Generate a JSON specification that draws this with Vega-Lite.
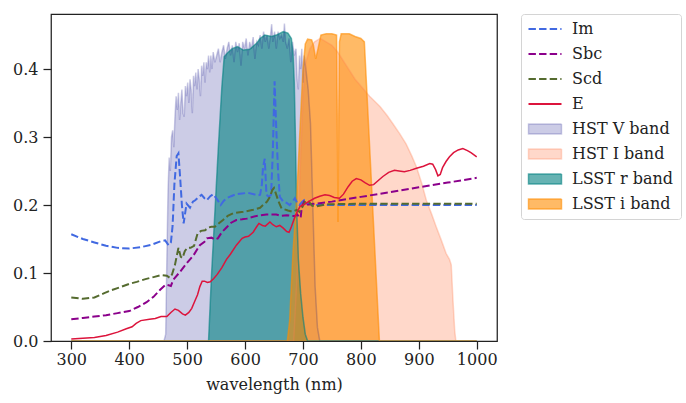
{
  "$schema": "https://vega.github.io/schema/vega-lite/v6.json",
  "width": 446,
  "height": 327,
  "autosize": {"type": "none"},
  "padding": {"left": 51, "top": 14, "right": 189, "bottom": 62},
  "background": "white",
  "config": {
    "font": "DejaVu Serif",
    "view": {"stroke": "#222222", "strokeWidth": 1.25},
    "axis": {
      "domain": false, "grid": false, "tickSize": 8, "tickWidth": 1.25, "tickColor": "#222222",
      "labelColor": "#222222", "labelFontSize": 16, "labelFont": "DejaVu Serif", "labelFlush": false, "labelOverlap": false,
      "titleColor": "#222222", "titleFontSize": 16, "titleFont": "DejaVu Serif", "titleFontWeight": "normal"
    },
    "legend": {"labelFont": "DejaVu Serif", "labelFontSize": 16, "labelColor": "#222222"}
  },
  "datasets": {
    "lines": [
      {"n":"Im","w":300,"v":0.157},{"n":"Im","w":320,"v":0.150},{"n":"Im","w":340,"v":0.145},{"n":"Im","w":360,"v":0.140},{"n":"Im","w":380,"v":0.137},{"n":"Im","w":400,"v":0.136},{"n":"Im","w":420,"v":0.138},{"n":"Im","w":440,"v":0.142},{"n":"Im","w":455,"v":0.147},{"n":"Im","w":462,"v":0.148},{"n":"Im","w":468,"v":0.141},{"n":"Im","w":472,"v":0.145},{"n":"Im","w":475,"v":0.17},{"n":"Im","w":478,"v":0.23},{"n":"Im","w":482,"v":0.272},{"n":"Im","w":485,"v":0.276},{"n":"Im","w":488,"v":0.24},{"n":"Im","w":491,"v":0.2},{"n":"Im","w":494,"v":0.173},{"n":"Im","w":499,"v":0.202},{"n":"Im","w":505,"v":0.196},{"n":"Im","w":510,"v":0.205},{"n":"Im","w":514,"v":0.207},{"n":"Im","w":520,"v":0.212},{"n":"Im","w":525,"v":0.215},{"n":"Im","w":530,"v":0.21},{"n":"Im","w":534,"v":0.207},{"n":"Im","w":540,"v":0.213},{"n":"Im","w":545,"v":0.216},{"n":"Im","w":552,"v":0.208},{"n":"Im","w":558,"v":0.2},{"n":"Im","w":563,"v":0.206},{"n":"Im","w":568,"v":0.21},{"n":"Im","w":576,"v":0.213},{"n":"Im","w":585,"v":0.216},{"n":"Im","w":595,"v":0.217},{"n":"Im","w":605,"v":0.218},{"n":"Im","w":615,"v":0.216},{"n":"Im","w":622,"v":0.214},{"n":"Im","w":626,"v":0.215},{"n":"Im","w":629,"v":0.23},{"n":"Im","w":631,"v":0.255},{"n":"Im","w":634,"v":0.268},{"n":"Im","w":637,"v":0.215},{"n":"Im","w":641,"v":0.212},{"n":"Im","w":645,"v":0.215},{"n":"Im","w":648,"v":0.28},{"n":"Im","w":651,"v":0.382},{"n":"Im","w":654,"v":0.31},{"n":"Im","w":657,"v":0.25},{"n":"Im","w":660,"v":0.212},{"n":"Im","w":666,"v":0.205},{"n":"Im","w":672,"v":0.203},{"n":"Im","w":677,"v":0.2},{"n":"Im","w":682,"v":0.205},{"n":"Im","w":686,"v":0.21},{"n":"Im","w":690,"v":0.203},{"n":"Im","w":694,"v":0.2},{"n":"Im","w":698,"v":0.204},{"n":"Im","w":702,"v":0.207},{"n":"Im","w":706,"v":0.202},{"n":"Im","w":712,"v":0.201},{"n":"Im","w":720,"v":0.2},{"n":"Im","w":800,"v":0.2},{"n":"Im","w":900,"v":0.2},{"n":"Im","w":1000,"v":0.2},
      {"n":"Sbc","w":300,"v":0.032},{"n":"Sbc","w":320,"v":0.034},{"n":"Sbc","w":340,"v":0.036},{"n":"Sbc","w":360,"v":0.038},{"n":"Sbc","w":380,"v":0.041},{"n":"Sbc","w":400,"v":0.044},{"n":"Sbc","w":415,"v":0.05},{"n":"Sbc","w":430,"v":0.057},{"n":"Sbc","w":442,"v":0.065},{"n":"Sbc","w":453,"v":0.075},{"n":"Sbc","w":463,"v":0.083},{"n":"Sbc","w":468,"v":0.082},{"n":"Sbc","w":472,"v":0.081},{"n":"Sbc","w":476,"v":0.09},{"n":"Sbc","w":488,"v":0.102},{"n":"Sbc","w":499,"v":0.114},{"n":"Sbc","w":511,"v":0.126},{"n":"Sbc","w":522,"v":0.141},{"n":"Sbc","w":530,"v":0.146},{"n":"Sbc","w":534,"v":0.151},{"n":"Sbc","w":542,"v":0.152},{"n":"Sbc","w":548,"v":0.149},{"n":"Sbc","w":553,"v":0.151},{"n":"Sbc","w":560,"v":0.16},{"n":"Sbc","w":568,"v":0.167},{"n":"Sbc","w":576,"v":0.174},{"n":"Sbc","w":585,"v":0.178},{"n":"Sbc","w":595,"v":0.179},{"n":"Sbc","w":603,"v":0.18},{"n":"Sbc","w":620,"v":0.184},{"n":"Sbc","w":637,"v":0.186},{"n":"Sbc","w":654,"v":0.186},{"n":"Sbc","w":662,"v":0.184},{"n":"Sbc","w":672,"v":0.185},{"n":"Sbc","w":680,"v":0.184},{"n":"Sbc","w":686,"v":0.184},{"n":"Sbc","w":690,"v":0.186},{"n":"Sbc","w":693,"v":0.183},{"n":"Sbc","w":696,"v":0.181},{"n":"Sbc","w":698,"v":0.198},{"n":"Sbc","w":702,"v":0.205},{"n":"Sbc","w":706,"v":0.2},{"n":"Sbc","w":712,"v":0.201},{"n":"Sbc","w":750,"v":0.205},{"n":"Sbc","w":800,"v":0.212},{"n":"Sbc","w":850,"v":0.219},{"n":"Sbc","w":900,"v":0.226},{"n":"Sbc","w":950,"v":0.233},{"n":"Sbc","w":1000,"v":0.240},
      {"n":"Scd","w":300,"v":0.064},{"n":"Scd","w":320,"v":0.062},{"n":"Scd","w":340,"v":0.064},{"n":"Scd","w":356,"v":0.07},{"n":"Scd","w":370,"v":0.075},{"n":"Scd","w":384,"v":0.079},{"n":"Scd","w":400,"v":0.084},{"n":"Scd","w":413,"v":0.087},{"n":"Scd","w":428,"v":0.091},{"n":"Scd","w":442,"v":0.094},{"n":"Scd","w":455,"v":0.097},{"n":"Scd","w":465,"v":0.096},{"n":"Scd","w":470,"v":0.093},{"n":"Scd","w":474,"v":0.098},{"n":"Scd","w":479,"v":0.112},{"n":"Scd","w":485,"v":0.137},{"n":"Scd","w":489,"v":0.124},{"n":"Scd","w":492,"v":0.122},{"n":"Scd","w":496,"v":0.132},{"n":"Scd","w":500,"v":0.137},{"n":"Scd","w":506,"v":0.137},{"n":"Scd","w":512,"v":0.14},{"n":"Scd","w":518,"v":0.158},{"n":"Scd","w":524,"v":0.162},{"n":"Scd","w":531,"v":0.163},{"n":"Scd","w":537,"v":0.167},{"n":"Scd","w":542,"v":0.168},{"n":"Scd","w":548,"v":0.168},{"n":"Scd","w":556,"v":0.174},{"n":"Scd","w":562,"v":0.178},{"n":"Scd","w":570,"v":0.184},{"n":"Scd","w":580,"v":0.188},{"n":"Scd","w":597,"v":0.19},{"n":"Scd","w":614,"v":0.193},{"n":"Scd","w":626,"v":0.196},{"n":"Scd","w":631,"v":0.2},{"n":"Scd","w":638,"v":0.205},{"n":"Scd","w":643,"v":0.212},{"n":"Scd","w":647,"v":0.222},{"n":"Scd","w":650,"v":0.225},{"n":"Scd","w":654,"v":0.215},{"n":"Scd","w":658,"v":0.205},{"n":"Scd","w":663,"v":0.195},{"n":"Scd","w":674,"v":0.192},{"n":"Scd","w":682,"v":0.19},{"n":"Scd","w":689,"v":0.193},{"n":"Scd","w":694,"v":0.19},{"n":"Scd","w":699,"v":0.197},{"n":"Scd","w":704,"v":0.206},{"n":"Scd","w":710,"v":0.205},{"n":"Scd","w":716,"v":0.199},{"n":"Scd","w":723,"v":0.198},{"n":"Scd","w":740,"v":0.201},{"n":"Scd","w":800,"v":0.202},{"n":"Scd","w":900,"v":0.202},{"n":"Scd","w":1000,"v":0.202},
      {"n":"E","w":300,"v":0.003},{"n":"E","w":320,"v":0.004},{"n":"E","w":340,"v":0.005},{"n":"E","w":360,"v":0.008},{"n":"E","w":380,"v":0.013},{"n":"E","w":395,"v":0.018},{"n":"E","w":405,"v":0.021},{"n":"E","w":412,"v":0.026},{"n":"E","w":420,"v":0.030},{"n":"E","w":435,"v":0.032},{"n":"E","w":445,"v":0.033},{"n":"E","w":455,"v":0.036},{"n":"E","w":465,"v":0.036},{"n":"E","w":472,"v":0.042},{"n":"E","w":479,"v":0.047},{"n":"E","w":485,"v":0.045},{"n":"E","w":492,"v":0.04},{"n":"E","w":497,"v":0.038},{"n":"E","w":503,"v":0.042},{"n":"E","w":508,"v":0.048},{"n":"E","w":513,"v":0.058},{"n":"E","w":518,"v":0.068},{"n":"E","w":522,"v":0.08},{"n":"E","w":526,"v":0.088},{"n":"E","w":530,"v":0.088},{"n":"E","w":535,"v":0.086},{"n":"E","w":540,"v":0.087},{"n":"E","w":546,"v":0.092},{"n":"E","w":552,"v":0.098},{"n":"E","w":560,"v":0.108},{"n":"E","w":568,"v":0.12},{"n":"E","w":575,"v":0.128},{"n":"E","w":585,"v":0.141},{"n":"E","w":595,"v":0.151},{"n":"E","w":600,"v":0.153},{"n":"E","w":606,"v":0.154},{"n":"E","w":614,"v":0.16},{"n":"E","w":620,"v":0.168},{"n":"E","w":624,"v":0.173},{"n":"E","w":630,"v":0.17},{"n":"E","w":635,"v":0.169},{"n":"E","w":643,"v":0.175},{"n":"E","w":648,"v":0.171},{"n":"E","w":654,"v":0.168},{"n":"E","w":660,"v":0.17},{"n":"E","w":666,"v":0.166},{"n":"E","w":672,"v":0.161},{"n":"E","w":676,"v":0.16},{"n":"E","w":680,"v":0.168},{"n":"E","w":685,"v":0.18},{"n":"E","w":690,"v":0.19},{"n":"E","w":695,"v":0.198},{"n":"E","w":700,"v":0.2},{"n":"E","w":706,"v":0.203},{"n":"E","w":712,"v":0.206},{"n":"E","w":720,"v":0.21},{"n":"E","w":729,"v":0.213},{"n":"E","w":738,"v":0.215},{"n":"E","w":746,"v":0.214},{"n":"E","w":754,"v":0.211},{"n":"E","w":763,"v":0.21},{"n":"E","w":770,"v":0.216},{"n":"E","w":778,"v":0.227},{"n":"E","w":785,"v":0.235},{"n":"E","w":792,"v":0.239},{"n":"E","w":800,"v":0.237},{"n":"E","w":807,"v":0.233},{"n":"E","w":815,"v":0.229},{"n":"E","w":822,"v":0.23},{"n":"E","w":830,"v":0.236},{"n":"E","w":838,"v":0.242},{"n":"E","w":848,"v":0.248},{"n":"E","w":858,"v":0.251},{"n":"E","w":866,"v":0.25},{"n":"E","w":875,"v":0.249},{"n":"E","w":885,"v":0.251},{"n":"E","w":896,"v":0.254},{"n":"E","w":908,"v":0.257},{"n":"E","w":919,"v":0.261},{"n":"E","w":924,"v":0.26},{"n":"E","w":929,"v":0.252},{"n":"E","w":933,"v":0.243},{"n":"E","w":937,"v":0.245},{"n":"E","w":941,"v":0.255},{"n":"E","w":947,"v":0.264},{"n":"E","w":953,"v":0.271},{"n":"E","w":960,"v":0.277},{"n":"E","w":968,"v":0.281},{"n":"E","w":976,"v":0.283},{"n":"E","w":984,"v":0.28},{"n":"E","w":990,"v":0.277},{"n":"E","w":1000,"v":0.271}
    ],
    "bands": [
      {"n":"HST V band","w":300,"v":0},{"n":"HST V band","w":460,"v":0},{"n":"HST V band","w":463,"v":0.01},{"n":"HST V band","w":465,"v":0.12},{"n":"HST V band","w":467,"v":0.22},{"n":"HST V band","w":469,"v":0.27},{"n":"HST V band","w":471,"v":0.25},{"n":"HST V band","w":473,"v":0.3},{"n":"HST V band","w":475,"v":0.31},{"n":"HST V band","w":477,"v":0.285},{"n":"HST V band","w":479,"v":0.33},{"n":"HST V band","w":481,"v":0.36},{"n":"HST V band","w":483,"v":0.34},{"n":"HST V band","w":485,"v":0.365},{"n":"HST V band","w":487,"v":0.325},{"n":"HST V band","w":489,"v":0.35},{"n":"HST V band","w":491,"v":0.37},{"n":"HST V band","w":493,"v":0.335},{"n":"HST V band","w":495,"v":0.33},{"n":"HST V band","w":497,"v":0.375},{"n":"HST V band","w":499,"v":0.36},{"n":"HST V band","w":501,"v":0.38},{"n":"HST V band","w":503,"v":0.35},{"n":"HST V band","w":505,"v":0.385},{"n":"HST V band","w":507,"v":0.37},{"n":"HST V band","w":509,"v":0.335},{"n":"HST V band","w":511,"v":0.39},{"n":"HST V band","w":513,"v":0.375},{"n":"HST V band","w":515,"v":0.395},{"n":"HST V band","w":517,"v":0.37},{"n":"HST V band","w":519,"v":0.40},{"n":"HST V band","w":521,"v":0.385},{"n":"HST V band","w":523,"v":0.36},{"n":"HST V band","w":525,"v":0.405},{"n":"HST V band","w":527,"v":0.39},{"n":"HST V band","w":529,"v":0.41},{"n":"HST V band","w":531,"v":0.38},{"n":"HST V band","w":533,"v":0.41},{"n":"HST V band","w":535,"v":0.40},{"n":"HST V band","w":537,"v":0.42},{"n":"HST V band","w":539,"v":0.395},{"n":"HST V band","w":541,"v":0.42},{"n":"HST V band","w":543,"v":0.40},{"n":"HST V band","w":545,"v":0.425},{"n":"HST V band","w":548,"v":0.41},{"n":"HST V band","w":551,"v":0.42},{"n":"HST V band","w":554,"v":0.43},{"n":"HST V band","w":557,"v":0.41},{"n":"HST V band","w":560,"v":0.425},{"n":"HST V band","w":563,"v":0.435},{"n":"HST V band","w":566,"v":0.415},{"n":"HST V band","w":569,"v":0.43},{"n":"HST V band","w":572,"v":0.44},{"n":"HST V band","w":575,"v":0.42},{"n":"HST V band","w":578,"v":0.435},{"n":"HST V band","w":581,"v":0.41},{"n":"HST V band","w":584,"v":0.44},{"n":"HST V band","w":587,"v":0.425},{"n":"HST V band","w":590,"v":0.438},{"n":"HST V band","w":593,"v":0.405},{"n":"HST V band","w":596,"v":0.44},{"n":"HST V band","w":599,"v":0.43},{"n":"HST V band","w":602,"v":0.445},{"n":"HST V band","w":605,"v":0.42},{"n":"HST V band","w":608,"v":0.44},{"n":"HST V band","w":611,"v":0.43},{"n":"HST V band","w":614,"v":0.447},{"n":"HST V band","w":617,"v":0.415},{"n":"HST V band","w":620,"v":0.44},{"n":"HST V band","w":623,"v":0.435},{"n":"HST V band","w":626,"v":0.45},{"n":"HST V band","w":629,"v":0.43},{"n":"HST V band","w":632,"v":0.455},{"n":"HST V band","w":635,"v":0.44},{"n":"HST V band","w":638,"v":0.45},{"n":"HST V band","w":641,"v":0.43},{"n":"HST V band","w":644,"v":0.45},{"n":"HST V band","w":646,"v":0.466},{"n":"HST V band","w":648,"v":0.44},{"n":"HST V band","w":651,"v":0.455},{"n":"HST V band","w":654,"v":0.43},{"n":"HST V band","w":657,"v":0.455},{"n":"HST V band","w":660,"v":0.445},{"n":"HST V band","w":663,"v":0.45},{"n":"HST V band","w":666,"v":0.44},{"n":"HST V band","w":668,"v":0.467},{"n":"HST V band","w":670,"v":0.44},{"n":"HST V band","w":673,"v":0.43},{"n":"HST V band","w":676,"v":0.445},{"n":"HST V band","w":679,"v":0.41},{"n":"HST V band","w":682,"v":0.44},{"n":"HST V band","w":685,"v":0.42},{"n":"HST V band","w":688,"v":0.43},{"n":"HST V band","w":690,"v":0.385},{"n":"HST V band","w":692,"v":0.37},{"n":"HST V band","w":694,"v":0.42},{"n":"HST V band","w":696,"v":0.40},{"n":"HST V band","w":698,"v":0.43},{"n":"HST V band","w":700,"v":0.38},{"n":"HST V band","w":702,"v":0.42},{"n":"HST V band","w":705,"v":0.40},{"n":"HST V band","w":709,"v":0.37},{"n":"HST V band","w":713,"v":0.32},{"n":"HST V band","w":717,"v":0.2},{"n":"HST V band","w":721,"v":0.08},{"n":"HST V band","w":725,"v":0.02},{"n":"HST V band","w":729,"v":0},{"n":"HST V band","w":1000,"v":0},
      {"n":"HST I band","w":300,"v":0},{"n":"HST I band","w":684,"v":0},{"n":"HST I band","w":690,"v":0.1},{"n":"HST I band","w":695,"v":0.25},{"n":"HST I band","w":700,"v":0.36},{"n":"HST I band","w":705,"v":0.41},{"n":"HST I band","w":712,"v":0.43},{"n":"HST I band","w":720,"v":0.44},{"n":"HST I band","w":730,"v":0.445},{"n":"HST I band","w":740,"v":0.44},{"n":"HST I band","w":750,"v":0.435},{"n":"HST I band","w":760,"v":0.425},{"n":"HST I band","w":775,"v":0.405},{"n":"HST I band","w":790,"v":0.385},{"n":"HST I band","w":800,"v":0.375},{"n":"HST I band","w":815,"v":0.36},{"n":"HST I band","w":833,"v":0.345},{"n":"HST I band","w":845,"v":0.332},{"n":"HST I band","w":855,"v":0.32},{"n":"HST I band","w":867,"v":0.305},{"n":"HST I band","w":878,"v":0.29},{"n":"HST I band","w":888,"v":0.272},{"n":"HST I band","w":896,"v":0.256},{"n":"HST I band","w":905,"v":0.232},{"n":"HST I band","w":913,"v":0.207},{"n":"HST I band","w":922,"v":0.187},{"n":"HST I band","w":930,"v":0.168},{"n":"HST I band","w":939,"v":0.148},{"n":"HST I band","w":947,"v":0.129},{"n":"HST I band","w":953,"v":0.12},{"n":"HST I band","w":956,"v":0.112},{"n":"HST I band","w":959,"v":0.06},{"n":"HST I band","w":962,"v":0.015},{"n":"HST I band","w":964,"v":0},{"n":"HST I band","w":1000,"v":0},
      {"n":"LSST r band","w":300,"v":0},{"n":"LSST r band","w":537,"v":0},{"n":"LSST r band","w":542,"v":0.095},{"n":"LSST r band","w":548,"v":0.19},{"n":"LSST r band","w":554,"v":0.286},{"n":"LSST r band","w":560,"v":0.374},{"n":"LSST r band","w":564,"v":0.418},{"n":"LSST r band","w":570,"v":0.424},{"n":"LSST r band","w":578,"v":0.43},{"n":"LSST r band","w":587,"v":0.433},{"n":"LSST r band","w":597,"v":0.428},{"n":"LSST r band","w":608,"v":0.429},{"n":"LSST r band","w":620,"v":0.438},{"n":"LSST r band","w":626,"v":0.445},{"n":"LSST r band","w":634,"v":0.45},{"n":"LSST r band","w":646,"v":0.448},{"n":"LSST r band","w":654,"v":0.45},{"n":"LSST r band","w":666,"v":0.455},{"n":"LSST r band","w":674,"v":0.453},{"n":"LSST r band","w":680,"v":0.445},{"n":"LSST r band","w":683,"v":0.42},{"n":"LSST r band","w":685,"v":0.38},{"n":"LSST r band","w":687,"v":0.3},{"n":"LSST r band","w":689,"v":0.2},{"n":"LSST r band","w":692,"v":0.12},{"n":"LSST r band","w":696,"v":0.07},{"n":"LSST r band","w":700,"v":0.035},{"n":"LSST r band","w":704,"v":0.01},{"n":"LSST r band","w":708,"v":0},{"n":"LSST r band","w":1000,"v":0},
      {"n":"LSST i band","w":300,"v":0},{"n":"LSST i band","w":673,"v":0},{"n":"LSST i band","w":677,"v":0.03},{"n":"LSST i band","w":683,"v":0.134},{"n":"LSST i band","w":689,"v":0.207},{"n":"LSST i band","w":694.5,"v":0.305},{"n":"LSST i band","w":700,"v":0.40},{"n":"LSST i band","w":704,"v":0.437},{"n":"LSST i band","w":708,"v":0.444},{"n":"LSST i band","w":715,"v":0.443},{"n":"LSST i band","w":718,"v":0.435},{"n":"LSST i band","w":722,"v":0.415},{"n":"LSST i band","w":726,"v":0.43},{"n":"LSST i band","w":731,"v":0.45},{"n":"LSST i band","w":740,"v":0.452},{"n":"LSST i band","w":750,"v":0.452},{"n":"LSST i band","w":758,"v":0.45},{"n":"LSST i band","w":759.5,"v":0.3},{"n":"LSST i band","w":760.5,"v":0.175},{"n":"LSST i band","w":761.5,"v":0.3},{"n":"LSST i band","w":763,"v":0.44},{"n":"LSST i band","w":766,"v":0.452},{"n":"LSST i band","w":780,"v":0.452},{"n":"LSST i band","w":790,"v":0.448},{"n":"LSST i band","w":800,"v":0.445},{"n":"LSST i band","w":806,"v":0.44},{"n":"LSST i band","w":832,"v":0},{"n":"LSST i band","w":1000,"v":0}
    ]
  },
  "encoding": {
    "x": {"field": "w", "type": "quantitative", "scale": {"domain": [265, 1035], "nice": false, "zero": false},
          "axis": {"values": [300,400,500,600,700,800,900,1000], "format": "d", "title": "wavelength (nm)", "labelPadding": 2, "titlePadding": 9,
                   "labelFont": "DejaVu Serif", "titleFont": "DejaVu Serif", "titleFontSize": 16, "labelFontSize": 16}},
    "y": {"field": "v", "type": "quantitative", "stack": null, "scale": {"domain": [0, 0.481], "nice": false},
          "axis": {"values": [0,0.1,0.2,0.3,0.4], "format": ".1f", "title": null, "labelPadding": 5, "labelFont": "DejaVu Serif", "labelFontSize": 16}},
    "color": {"field": "n", "type": "nominal",
      "scale": {"domain": ["Im","Sbc","Scd","E","HST V band","HST I band","LSST r band","LSST i band"],
                "range": ["#4169e1","#8b008b","#556b2f","#dc143c","#000080","#ff7f50","#008080","#ff8c00"]},
      "legend": {
        "title": null, "orient": "none", "legendX": 470, "legendY": 0, "direction": "vertical",
        "padding": 7, "rowPadding": 9, "symbolOffset": 9, "labelOffset": 19,
        "strokeColor": "#d4d4d4", "fillColor": "white", "cornerRadius": 3,
        "symbolSize": 121, "labelFont": "DejaVu Serif", "labelFontSize": 16, "labelColor": "#222222",
        "encode": {
          "labels": {"update": {"font": {"value": "DejaVu Serif"}}},
          "symbols": {"update": {
          "shape": {"signal": "indexof(['Im','Sbc','Scd','E'], datum.value) >= 0 ? 'M-3,0H3' : 'M-3,-0.9H3V0.9H-3Z'"},
          "size": {"value": 121},
          "stroke": {"signal": "['#4169e1','#8b008b','#556b2f','#dc143c','#000080','#ff7f50','#008080','#ff8c00'][indexof(['Im','Sbc','Scd','E','HST V band','HST I band','LSST r band','LSST i band'], datum.value)]"},
          "fill": {"signal": "['transparent','transparent','transparent','transparent','#000080','#ff7f50','#008080','#ff8c00'][indexof(['Im','Sbc','Scd','E','HST V band','HST I band','LSST r band','LSST i band'], datum.value)]"},
          "fillOpacity": {"signal": "[0,0,0,0,0.2,0.3,0.6,0.6][indexof(['Im','Sbc','Scd','E','HST V band','HST I band','LSST r band','LSST i band'], datum.value)]"},
          "strokeOpacity": {"signal": "[1,1,1,1,0.2,0.3,0.6,0.6][indexof(['Im','Sbc','Scd','E','HST V band','HST I band','LSST r band','LSST i band'], datum.value)]"},
          "strokeDash": {"signal": "indexof(['Im','Sbc','Scd'], datum.value) >= 0 ? [7.4,3.2] : [1,0]"},
          "strokeWidth": {"signal": "indexof(['Im','Sbc','Scd','E'], datum.value) >= 0 ? 2 : 1.5"},
          "opacity": {"value": 1}
        }}}
      }
    }
  },
  "layer": [
    {
      "data": {"name": "bands"},
      "mark": {"type": "area", "clip": true, "interpolate": "linear"},
      "encoding": {"opacity": {"field": "n", "type": "nominal", "scale": {"type": "ordinal", "domain": ["HST V band","HST I band","LSST r band","LSST i band"], "range": [0.2,0.3,0.6,0.6]}, "legend": null}}
    },
    {
      "data": {"name": "bands"},
      "mark": {"type": "line", "clip": true, "strokeWidth": 1.5, "interpolate": "linear"},
      "encoding": {"opacity": {"field": "n", "type": "nominal", "scale": {"type": "ordinal", "domain": ["HST V band","HST I band","LSST r band","LSST i band"], "range": [0.2,0.3,0.6,0.6]}, "legend": null}}
    },
    {
      "data": {"name": "lines"},
      "transform": [{"filter": "datum.n != 'E'"}],
      "mark": {"type": "line", "clip": true, "strokeWidth": 2, "strokeDash": [7.4, 3.2]},
      "encoding": {}
    },
    {
      "data": {"name": "lines"},
      "transform": [{"filter": "datum.n == 'E'"}],
      "mark": {"type": "line", "clip": true, "strokeWidth": 1.5},
      "encoding": {}
    }
  ]
}
